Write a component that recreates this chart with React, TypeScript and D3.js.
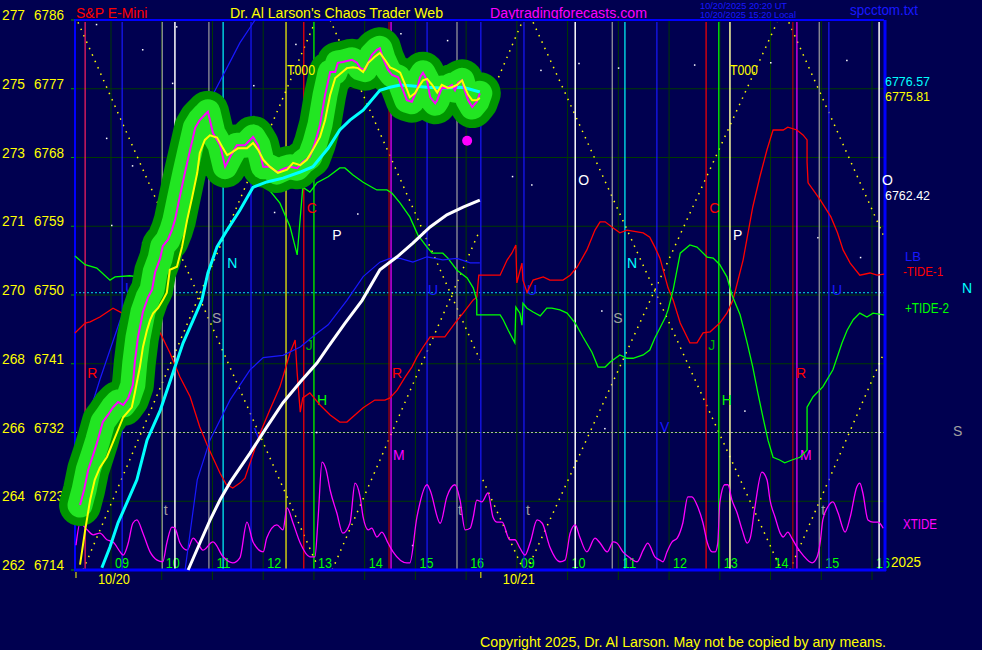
import { useEffect } from "react";
import * as d3 from "d3";

// left axis: E-mini price ticks and the cash index labels printed beside them
const priceTicks = [6714, 6723, 6732, 6741, 6750, 6759, 6768, 6777, 6786];
const indexLabels = ["262", "264", "266", "268", "270", "271", "273", "275", "277"];

// session hours, overnight squeezed into one slot (17 = 09:00 on 10/21)
const hourSlots = [9, 10, 11, 12, 13, 14, 15, 16, 17, 18, 19, 20, 21, 22, 23, 24];
const hourLabels = ["09", "10", "11", "12", "13", "14", "15", "16", "09", "10", "11", "12", "13", "14", "15", "16"];
const dateSlots = [8.31, 16.29];
const dateLabels = ["10/20", "10/21"];

// price, 10/20 session
const price: [number, number][] = [
  [8.39, 6722.5], [8.47, 6724.5], [8.55, 6727.1], [8.65, 6729.1], [8.74, 6731.0], [8.84, 6733.4],
  [8.94, 6734.3], [9.04, 6735.3], [9.14, 6736.0], [9.24, 6735.6], [9.34, 6736.5], [9.43, 6738.2], [9.47, 6741.2],
  [9.53, 6744.4], [9.63, 6747.8], [9.73, 6749.7], [9.81, 6750.7], [9.87, 6753.0], [9.97, 6754.8], [10.02, 6756.4],
  [10.12, 6757.2], [10.2, 6758.5], [10.26, 6759.8], [10.36, 6763.0], [10.46, 6766.1], [10.56, 6769.0], [10.66, 6771.9],
  [10.75, 6772.9], [10.85, 6773.6], [10.91, 6774.0], [11.01, 6771.2], [11.15, 6769.6], [11.25, 6766.8], [11.35, 6768.1],
  [11.48, 6769.6], [11.64, 6769.6], [11.8, 6770.7], [11.9, 6769.6], [12.0, 6766.8], [12.13, 6766.8], [12.27, 6766.1],
  [12.43, 6766.6], [12.53, 6766.8], [12.67, 6766.6], [12.78, 6767.4], [12.92, 6768.1], [13.02, 6769.9], [13.12, 6772.3],
  [13.22, 6776.2], [13.32, 6779.2], [13.42, 6779.2], [13.47, 6780.4], [13.57, 6780.5], [13.75, 6780.8], [13.85, 6780.4],
  [13.91, 6779.7], [14.01, 6779.5], [14.14, 6781.4], [14.24, 6782.1], [14.3, 6782.3], [14.36, 6781.0], [14.46, 6779.5],
  [14.54, 6778.8], [14.66, 6778.5], [14.74, 6777.1], [14.83, 6775.5], [14.93, 6775.3], [15.03, 6776.8], [15.09, 6778.5],
  [15.15, 6779.1], [15.23, 6778.1], [15.29, 6775.9], [15.39, 6775.1], [15.43, 6775.5], [15.52, 6777.1], [15.62, 6777.1],
  [15.72, 6777.5], [15.78, 6776.8], [15.84, 6777.8], [15.92, 6778.1], [15.98, 6776.6], [16.04, 6775.5], [16.12, 6774.6],
  [16.21, 6775.3], [16.27, 6776.4],
];

// fast average (yellow)
const fastAvg: [number, number][] = [
  [8.39, 6714.7], [8.49, 6719.2], [8.59, 6723.2], [8.68, 6725.8], [8.78, 6727.4], [8.92, 6728.8], [9.08, 6731.4],
  [9.24, 6734.0], [9.41, 6735.3], [9.47, 6737.2], [9.57, 6740.6], [9.63, 6743.2], [9.71, 6745.4], [9.77, 6746.7],
  [9.83, 6747.6], [9.93, 6748.3], [10.02, 6749.3], [10.1, 6750.3], [10.16, 6753.3], [10.3, 6753.7], [10.4, 6756.3],
  [10.5, 6759.8], [10.6, 6762.8], [10.7, 6766.0], [10.75, 6768.6], [10.85, 6770.3], [10.95, 6770.9], [11.09, 6770.6],
  [11.19, 6769.4], [11.29, 6768.3], [11.39, 6768.7], [11.5, 6769.2], [11.68, 6769.2], [11.8, 6769.9], [11.9, 6769.0],
  [12.0, 6767.7], [12.13, 6766.8], [12.29, 6766.0], [12.47, 6766.4], [12.59, 6767.3], [12.73, 6767.0], [12.86, 6767.7],
  [12.98, 6769.0], [13.12, 6770.7], [13.22, 6772.9], [13.32, 6776.2], [13.42, 6778.4], [13.65, 6779.7], [13.77, 6779.8],
  [13.87, 6779.7], [13.97, 6779.2], [14.07, 6780.4], [14.2, 6781.2], [14.3, 6781.7], [14.4, 6780.8], [14.5, 6779.8],
  [14.6, 6779.5], [14.7, 6779.1], [14.8, 6777.5], [14.89, 6775.9], [14.99, 6776.4], [15.05, 6777.1], [15.15, 6778.1],
  [15.23, 6778.3], [15.33, 6777.5], [15.43, 6776.5], [15.52, 6777.5], [15.64, 6777.1], [15.72, 6777.2], [15.82, 6777.5],
  [15.92, 6778.1], [15.98, 6777.1], [16.04, 6776.2], [16.12, 6775.5], [16.21, 6775.5], [16.27, 6775.8],
];

// medium average (cyan)
const midAvg: [number, number][] = [
  [8.82, 6714.3], [8.98, 6717.0], [9.14, 6720.2], [9.34, 6723.2], [9.51, 6725.8], [9.71, 6731.0], [9.97, 6734.9],
  [10.22, 6739.8], [10.42, 6743.7], [10.62, 6746.7], [10.79, 6749.3], [10.91, 6752.9], [11.09, 6756.3], [11.29, 6758.5],
  [11.54, 6761.1], [11.8, 6764.1], [12.07, 6764.8], [12.39, 6765.3], [12.73, 6766.1], [12.98, 6766.8], [13.28, 6769.2],
  [13.51, 6771.6], [13.71, 6772.9], [13.97, 6774.2], [14.3, 6776.8], [14.5, 6777.2], [14.7, 6777.5], [14.89, 6777.4],
  [15.23, 6777.2], [15.49, 6777.1], [15.94, 6777.2], [16.27, 6776.57],
];

// slow average (white)
const slowAvg: [number, number][] = [
  [10.52, 6714.0], [10.75, 6717.5], [10.95, 6720.5], [11.15, 6723.2], [11.35, 6725.5], [11.74, 6729.3], [12.07, 6732.7],
  [12.39, 6735.9], [12.73, 6738.6], [13.06, 6741.1], [13.28, 6743.2], [13.61, 6746.3], [13.95, 6749.3], [14.3, 6753.3],
  [14.64, 6755.0], [14.95, 6756.8], [15.29, 6758.9], [15.62, 6760.5], [15.94, 6761.5], [16.27, 6762.42],
];

// blue projection lines
const blueSteep: [number, number][] = [
  [8.29, 6728.4], [8.53, 6733.6], [8.78, 6738.9], [8.98, 6742.8], [9.18, 6746.7], [9.37, 6749.3], [10.06, 6755.9],
  [10.26, 6761.8], [10.95, 6775.5], [11.29, 6779.8], [11.54, 6783.0], [11.84, 6786.0],
];
const blueSlow: [number, number][] = [
  [10.46, 6714.0], [10.7, 6725.8], [10.95, 6731.0], [11.35, 6736.3], [11.74, 6740.2], [12.0, 6741.8], [12.39, 6742.1],
  [12.73, 6743.2], [13.06, 6745.0], [13.28, 6746.1], [13.65, 6749.3], [13.97, 6752.4], [14.3, 6754.3], [14.5, 6754.8],
  [14.7, 6754.8], [14.95, 6754.3], [15.23, 6755.0], [15.54, 6754.6], [15.82, 6754.8], [16.08, 6754.2], [16.27, 6754.2],
];

// tide curves, 0..100 over the plot height
const tide1: [number, number][] = [
  [8.29, 43.1], [8.49, 44.9], [8.59, 45.1], [8.78, 46.0], [9.04, 47.6], [9.22, 46.7], [9.43, 46.9], [9.63, 46.9],
  [9.77, 45.5], [9.97, 43.1], [10.16, 39.5], [10.36, 35.1], [10.56, 31.5], [10.75, 26.0], [10.91, 22.4], [11.15, 17.6],
  [11.27, 15.6], [11.4, 14.9], [11.54, 15.8], [11.64, 16.7], [11.94, 24.9], [12.13, 29.1], [12.33, 33.3], [12.53, 39.5],
  [12.63, 41.8], [12.67, 35.8], [12.73, 28.7], [12.78, 31.3], [12.92, 32.2], [13.12, 30.0], [13.32, 28.2], [13.51, 26.9],
  [13.65, 26.9], [13.97, 29.5], [14.2, 30.9], [14.4, 30.9], [14.5, 31.3], [14.64, 32.7], [14.8, 35.1], [14.93, 36.9],
  [15.03, 38.7], [15.15, 40.5], [15.29, 42.4], [15.58, 42.4], [15.78, 44.9], [15.94, 46.7], [16.14, 49.1], [16.21, 49.6],
  [16.25, 53.6], [16.67, 53.6], [16.81, 56.4], [16.9, 57.6], [16.98, 59.1], [17.0, 52.2], [17.1, 55.8], [17.12, 52.7],
  [17.2, 50.5], [17.32, 52.7], [17.52, 53.3], [17.65, 52.7], [17.91, 52.7], [18.05, 53.6], [18.19, 55.1], [18.38, 58.2],
  [18.54, 61.8], [18.64, 63.3], [18.74, 63.3], [18.9, 62.2], [19.03, 61.3], [19.17, 61.8], [19.49, 61.3], [19.62, 60.5],
  [19.72, 58.7], [19.82, 56.7], [19.98, 51.3], [20.08, 49.1], [20.22, 44.9], [20.41, 41.3], [20.55, 41.3], [20.67, 43.1],
  [20.81, 43.3], [21.0, 44.9], [21.14, 46.7], [21.26, 49.1], [21.46, 56.4], [21.65, 66.0], [21.79, 71.5], [21.93, 76.4],
  [22.05, 80.0], [22.25, 80.0], [22.34, 80.5], [22.52, 80.0], [22.64, 79.1], [22.72, 78.2], [22.72, 74.2], [22.74, 70.4],
  [22.84, 69.1], [22.98, 67.3], [23.19, 64.2], [23.32, 61.3], [23.43, 58.2], [23.57, 55.8], [23.76, 53.6], [23.96, 54.0],
  [24.1, 53.6], [24.24, 53.8],
];
const tide2: [number, number][] = [
  [8.29, 57.1], [8.49, 55.5], [8.72, 54.9], [8.98, 52.7], [9.08, 53.3], [9.37, 53.5], [9.53, 53.3], [9.73, 52.7],
  [9.93, 51.6], [10.12, 55.5], [10.5, 67.3], [10.85, 75.5], [11.3, 74.0], [11.8, 72.0], [12.04, 70.0], [12.33, 66.7],
  [12.53, 62.4], [12.67, 57.3], [12.78, 69.6],
  [12.92, 68.7], [13.06, 70.4], [13.28, 71.5], [13.51, 73.1], [13.61, 73.1], [13.77, 71.8], [13.97, 70.5], [14.16, 69.5],
  [14.24, 69.1], [14.44, 69.1], [14.54, 68.5], [14.7, 66.7], [14.89, 64.2], [15.05, 60.9], [15.23, 58.7], [15.33, 57.6],
  [15.54, 57.6], [15.64, 56.7], [15.82, 54.5], [16.02, 53.1], [16.14, 51.3], [16.21, 49.1], [16.21, 46.4], [16.67, 46.4],
  [16.73, 45.5], [16.83, 43.6], [16.96, 41.3], [16.98, 47.8], [17.06, 46.7], [17.1, 44.5], [17.12, 48.5], [17.2, 47.6],
  [17.32, 46.9], [17.46, 46.2], [17.59, 47.6], [17.69, 47.6], [17.85, 47.3], [17.99, 46.7], [18.15, 44.9], [18.3, 42.4],
  [18.48, 39.6], [18.6, 36.9], [18.74, 36.9], [18.84, 37.8], [19.03, 39.1], [19.17, 38.5], [19.29, 38.5], [19.49, 39.1],
  [19.62, 40.0], [19.72, 42.2], [19.82, 44.0], [19.92, 45.8], [19.98, 47.3], [20.08, 50.9], [20.22, 57.6], [20.41, 59.1],
  [20.55, 58.7], [20.75, 56.9], [20.87, 56.7], [21.0, 55.5], [21.14, 53.3], [21.24, 50.0], [21.4, 46.4], [21.54, 41.3],
  [21.65, 36.9], [21.75, 32.2], [21.85, 27.8], [21.95, 23.6], [22.05, 20.5], [22.18, 20.0], [22.28, 19.5], [22.42, 20.0],
  [22.58, 20.5], [22.72, 21.8], [22.72, 29.6], [22.84, 31.5], [23.03, 33.3], [23.23, 36.4], [23.41, 41.3], [23.51, 43.6],
  [23.63, 45.5], [23.76, 46.7], [23.9, 46.0], [24.02, 46.7], [24.24, 46.4],
];
const xtide: [number, number][] = [
  [8.31, 4.5], [8.39, 8.5], [8.53, 7.3], [8.65, 6.4], [8.78, 6.7], [8.92, 5.5], [9.04, 5.1], [9.18, 3.3], [9.24, 2.7],
  [9.34, 4.9], [9.43, 8.5], [9.51, 9.1], [9.63, 6.7], [9.77, 3.3], [9.91, 1.8], [10.02, 1.5], [10.1, 4.9], [10.2, 7.8],
  [10.26, 7.6], [10.36, 4.9], [10.5, 3.6], [10.62, 5.8], [10.71, 4.9], [10.81, 3.6], [11.01, 5.1], [11.21, 2.4],
  [11.4, 1.3], [11.54, 2.2], [11.68, 8.7], [11.8, 5.1], [12.0, 3.3], [12.07, 5.8], [12.27, 8.2], [12.39, 7.3],
  [12.47, 11.3], [12.59, 8.5], [12.73, 4.9], [12.92, 2.4], [13.02, 2.4], [13.08, 9.1], [13.16, 19.6], [13.24, 18.2],
  [13.32, 14.5], [13.45, 10.4], [13.57, 6.7], [13.71, 8.5], [13.81, 15.8], [13.91, 13.3], [13.97, 9.6], [14.07, 7.3],
  [14.14, 7.6], [14.24, 6.0], [14.34, 6.9], [14.46, 4.9], [14.56, 3.3], [14.83, 1.3], [14.89, 1.3], [15.03, 9.6],
  [15.23, 15.5], [15.29, 14.5], [15.49, 8.5], [15.62, 13.3], [15.78, 15.5], [15.88, 12.7], [15.98, 7.3], [16.08, 7.6],
  [16.14, 9.6], [16.21, 12.7], [16.31, 12.4], [16.43, 14.0], [16.53, 9.6], [16.61, 8.7], [16.71, 8.7], [16.86, 5.5],
  [16.96, 5.5], [17.06, 4.0], [17.16, 2.7], [17.26, 4.9], [17.4, 9.1], [17.5, 8.5], [17.65, 4.2], [17.85, 1.5],
  [17.95, 1.8], [18.05, 6.7], [18.15, 8.2], [18.24, 6.0], [18.38, 3.3], [18.54, 5.8], [18.64, 4.9], [18.78, 3.3],
  [18.9, 5.1], [18.97, 4.9], [19.09, 3.3], [19.23, 2.2], [19.37, 1.5], [19.49, 3.6], [19.58, 4.9], [19.72, 2.4],
  [19.82, 1.8], [19.88, 1.5], [19.96, 3.3], [20.06, 5.1], [20.16, 5.8], [20.27, 8.5], [20.37, 13.3], [20.45, 13.3],
  [20.55, 11.8], [20.67, 8.5], [20.75, 5.1], [20.85, 3.3], [20.91, 3.3], [20.96, 4.9], [21.0, 12.2], [21.1, 15.5],
  [21.16, 15.5], [21.24, 12.7], [21.34, 10.4], [21.44, 7.3], [21.54, 4.9], [21.6, 5.8], [21.69, 11.3], [21.83, 17.8],
  [21.93, 16.4], [21.99, 12.7], [22.09, 9.6], [22.19, 6.7], [22.25, 6.0], [22.34, 6.9], [22.42, 5.8], [22.52, 4.2],
  [22.64, 2.7], [22.82, 1.3], [22.92, 2.4], [22.98, 5.1], [23.03, 9.1], [23.13, 11.5], [23.23, 12.4], [23.33, 10.4],
  [23.47, 6.9], [23.57, 9.6], [23.7, 15.1], [23.76, 15.8], [23.82, 14.0], [23.92, 9.1], [24.02, 8.7], [24.12, 8.7],
  [24.22, 7.6],
];

// dotted time/price angles: [slot1, price1, slot2, price2]
const angleLines: [number, number, number, number][] = [
  [8.35, 6785.7, 13.06, 6714.7],
  [8.45, 6714.0, 13.02, 6785.7],
  [13.32, 6786.0, 16.27, 6741.5],
  [13.36, 6714.0, 16.27, 6758.5],
  [16.53, 6776.8, 17.1, 6785.7],
  [16.33, 6725.8, 17.08, 6714.7],
  [17.32, 6785.7, 22.21, 6714.0],
  [17.2, 6714.0, 22.13, 6785.7],
  [22.36, 6785.7, 24.24, 6757.6],
  [22.38, 6714.0, 24.24, 6742.5],
];

// planetary time lines
const eventSlots = [8.49, 9.22, 10.01, 10.26, 10.93, 11.21, 11.76, 12.45, 12.8, 13.0, 14.48, 14.52, 15.23, 15.82, 16.29,
  17.14, 18.15, 18.88, 19.13, 19.76, 20.73, 20.98, 21.2, 22.44, 22.52, 22.96, 23.15, 24.14];
const eventKinds = ["rose", "blue", "grey", "white", "grey", "cyan", "blue", "yellow", "red", "green", "maroon", "magenta",
  "blue", "grey", "blue", "blue", "white", "grey", "cyan", "blue", "red", "green", "cream", "maroon", "magenta", "grey",
  "blue", "white"];

// planet glyph letters: slot, price, text, kind
const glyphs: [number, number, string, string][] = [
  [10.32, 6764.4, "O", "white"], [18.21, 6764.4, "O", "white"],
  [12.86, 6760.7, "C", "red"], [20.79, 6760.7, "C", "red"],
  [13.36, 6757.2, "P", "white"], [21.26, 6757.2, "P", "white"],
  [11.29, 6753.5, "N", "cyan"], [19.17, 6753.5, "N", "cyan"],
  [10.99, 6746.3, "S", "grey"], [18.9, 6746.3, "S", "grey"],
  [12.84, 6742.8, "J", "dkgreen"], [20.77, 6742.8, "J", "dkgreen"],
  [13.06, 6735.6, "H", "green"], [21.04, 6735.6, "H", "green"],
  [8.53, 6739.1, "R", "red"], [14.54, 6739.1, "R", "red"], [22.5, 6739.1, "R", "red"],
  [8.55, 6728.4, "M", "magenta"], [14.56, 6728.4, "M", "magenta"], [22.58, 6728.4, "M", "magenta"],
  [9.28, 6750.3, "U", "blue"], [15.25, 6750.0, "U", "blue"], [17.2, 6750.0, "U", "blue"], [23.21, 6750.0, "U", "blue"],
  [11.82, 6731.3, "V", "blue"], [19.82, 6732.1, "V", "blue"],
  [10.04, 6721.2, "t", "grey"], [15.84, 6721.2, "t", "grey"], [17.18, 6721.2, "t", "grey"], [23.0, 6721.2, "t", "grey"],
];
const timeMarks: [number, number][] = [[12.47, 6778.8], [21.2, 6778.8]];

const stars: [number, number][] = [
  [8.7, 6785.5], [9.61, 6782.2], [10.28, 6785.2], [10.2, 6777.8], [11.8, 6777.5], [12.63, 6782.9], [14.7, 6784.3],
  [15.62, 6783.4], [17.46, 6779.5], [18.21, 6780.4], [18.99, 6779.8], [20.49, 6780.2], [21.99, 6780.5], [23.49, 6780.8],
  [8.9, 6770.6], [9.41, 6767.0], [9.0, 6759.2], [9.61, 6756.9], [12.19, 6767.2], [12.21, 6760.9], [13.85, 6760.7],
  [16.9, 6765.6], [17.28, 6764.5], [18.66, 6748.0], [18.72, 6732.6], [22.92, 6757.6], [23.76, 6755.0], [21.48, 6734.9],
  [14.93, 6717.3], [13.04, 6732.1],
];

const forecastDot: [number, number] = [16.02, 6770.2];

const COLORS: Record<string, string> = {
  rose: "#ff2060", blue: "#1818ff", grey: "#a0a0a0", white: "#ffffff", cyan: "#00ffff", yellow: "#ffff00",
  red: "#ff0000", green: "#00ff00", dkgreen: "#00b000", maroon: "#b00000", magenta: "#ff00ff", cream: "#ffffa0",
};

const FONT = "'Liberation Sans', Arial, sans-serif";
const BG = "#000050";

export default function App() {
  useEffect(() => {
    document.body.style.margin = "0";
    document.body.style.background = BG;
  }, []);

  const left = 75, right = 884, top = 20, bottom = 570;
  const x = d3.scaleLinear().domain([9, 24]).range([111, 872]);
  const y = d3.scaleLinear().domain([6714, 6786]).range([bottom, top]);
  const lv = d3.scaleLinear().domain([0, 100]).range([bottom, top]);

  const pLine = d3.line<[number, number]>().x((d) => x(d[0])).y((d) => y(d[1]));
  const tLine = d3.line<[number, number]>().x((d) => x(d[0])).y((d) => lv(d[1]));
  const smoothT = d3.line<[number, number]>().x((d) => x(d[0])).y((d) => lv(d[1])).curve(d3.curveMonotoneX);

  return (
    <svg width={982} height={650} style={{ position: "absolute", left: 0, top: 0, background: BG }} fontFamily={FONT}>
      <rect width={982} height={650} fill={BG} />

      {/* header */}
      <text x={76} y={18} fill="#ff0000" fontSize={14}>S&amp;P E-Mini</text>
      <text x={230} y={18} fill="#ffff00" fontSize={14} textLength={213} lengthAdjust="spacingAndGlyphs">Dr. Al Larson's Chaos Trader Web</text>
      <text x={490} y={18} fill="#ff00ff" fontSize={14} textLength={157} lengthAdjust="spacingAndGlyphs">Daytradingforecasts.com</text>
      <text x={700} y={8.5} fill="#1818ff" fontSize={9} textLength={87} lengthAdjust="spacingAndGlyphs">10/20/2025 20:20 UT</text>
      <text x={700} y={18} fill="#1818ff" fontSize={9} textLength={96} lengthAdjust="spacingAndGlyphs">10/20/2025 15:20 Local</text>
      <text x={850} y={15} fill="#1818ff" fontSize={14} textLength={68} lengthAdjust="spacingAndGlyphs">spcctom.txt</text>

      {/* horizontal grid and left labels */}
      {priceTicks.map((t, i) => (
        <g key={t}>
          <line x1={left} x2={right} y1={y(t)} y2={y(t)} stroke="#003a00" strokeWidth={1} />
          <line x1={71} x2={left} y1={y(t)} y2={y(t)} stroke="#00a000" strokeWidth={1} />
          <text x={2} y={y(t)} fill="#ffff00" fontSize={14} textLength={23} lengthAdjust="spacingAndGlyphs">{indexLabels[i]}</text>
          <text x={34} y={y(t)} fill="#ffff00" fontSize={14} textLength={30} lengthAdjust="spacingAndGlyphs">{t}</text>
        </g>
      ))}
      <line x1={left} x2={right} y1={y(6750.3)} y2={y(6750.3)} stroke="#00e0e0" strokeWidth={1} strokeDasharray="2 2" />
      <line x1={left} x2={right} y1={y(6732)} y2={y(6732)} stroke="#b0b0b0" strokeWidth={1} strokeDasharray="2 2" />

      {/* hour grid and labels */}
      {hourSlots.map((h, i) => (
        <g key={h}>
          <line x1={x(h)} x2={x(h)} y1={top} y2={580} stroke="#003a00" strokeWidth={1} />
          <text x={x(h) + 4} y={568} fill="#00ff00" fontSize={14} textLength={14} lengthAdjust="spacingAndGlyphs">{hourLabels[i]}</text>
        </g>
      ))}
      {dateSlots.map((d, i) => (
        <g key={d}>
          <line x1={x(d)} x2={x(d)} y1={572} y2={578} stroke="#ffff00" strokeWidth={1} />
          <text x={x(d) + 22} y={584} fill="#ffff00" fontSize={14} textLength={32} lengthAdjust="spacingAndGlyphs">{dateLabels[i]}</text>
        </g>
      ))}

      {/* stars */}
      {stars.map((s, i) => (
        <rect key={i} x={x(s[0])} y={y(s[1])} width={1.5} height={1.5} fill="#ffffff" />
      ))}

      {/* dotted angles */}
      {angleLines.map((a, i) => (
        <line key={i} x1={x(a[0])} y1={y(a[1])} x2={x(a[2])} y2={y(a[3])} stroke="#ffff00" strokeWidth={1.5} strokeDasharray="1.5 5.5" />
      ))}

      {/* planetary time lines */}
      {eventSlots.map((s, i) => (
        <line key={i} x1={x(s)} x2={x(s)} y1={top + 2} y2={bottom} stroke={COLORS[eventKinds[i]]}
          strokeWidth={eventKinds[i] === "white" || eventKinds[i] === "cream" ? 1.5 : 1.2} />
      ))}

      {/* frame */}
      <line x1={left - 1} x2={right} y1={top} y2={top} stroke="#0000ff" strokeWidth={2} />
      <line x1={left} x2={left} y1={top} y2={bottom} stroke="#0000ff" strokeWidth={2} />
      <line x1={left - 1} x2={right + 2} y1={bottom} y2={bottom} stroke="#0000ff" strokeWidth={3} />
      <line x1={right + 1} x2={right + 1} y1={top} y2={bottom + 1} stroke="#0000ff" strokeWidth={3} />
      <text x={891} y={567} fill="#ffff00" fontSize={14} textLength={30} lengthAdjust="spacingAndGlyphs">2025</text>

      {/* glyph letters */}
      {glyphs.map((g, i) => (
        <text key={i} x={x(g[0])} y={y(g[1])} fill={COLORS[g[3]]} fontSize={14}>{g[2]}</text>
      ))}

      {/* tides */}
      <path d={tLine(tide1) ?? ""} fill="none" stroke="#ff0000" strokeWidth={1.3} />
      <path d={tLine(tide2) ?? ""} fill="none" stroke="#00ff00" strokeWidth={1.3} />
      <path d={smoothT(xtide) ?? ""} fill="none" stroke="#ff00ff" strokeWidth={1.3} />

      {/* projection and averages */}
      <path d={pLine(blueSteep) ?? ""} fill="none" stroke="#1818ff" strokeWidth={1.2} />
      <path d={pLine(blueSlow) ?? ""} fill="none" stroke="#1818ff" strokeWidth={1.2} />
      <path d={pLine(slowAvg) ?? ""} fill="none" stroke="#ffffff" strokeWidth={3} />

      {/* price glow */}
      <path d={pLine(price) ?? ""} fill="none" stroke="#009600" strokeWidth={42} strokeLinecap="round" strokeLinejoin="round" />
      <path d={pLine(price) ?? ""} fill="none" stroke="#22e622" strokeWidth={25} strokeLinecap="round" strokeLinejoin="round" />
      <path d={pLine(midAvg) ?? ""} fill="none" stroke="#00ffff" strokeWidth={3} />
      <path d={pLine(price) ?? ""} fill="none" stroke="#ff00ff" strokeWidth={2} />
      <path d={pLine(fastAvg) ?? ""} fill="none" stroke="#ffff00" strokeWidth={2} />
      <circle cx={x(forecastDot[0])} cy={y(forecastDot[1])} r={5} fill="#ff00ff" />

      {timeMarks.map((m, i) => (
        <text key={i} x={x(m[0])} y={y(m[1])} fill="#ffff00" fontSize={14} textLength={28} lengthAdjust="spacingAndGlyphs">T000</text>
      ))}

      {/* right side labels */}
      <text x={885} y={86} fill="#00ffff" fontSize={12} textLength={45} lengthAdjust="spacingAndGlyphs">6776.57</text>
      <text x={885} y={101} fill="#ffff00" fontSize={12} textLength={45} lengthAdjust="spacingAndGlyphs">6775.81</text>
      <text x={882} y={185} fill="#ffffff" fontSize={14}>O</text>
      <text x={885} y={200} fill="#ffffff" fontSize={13} textLength={45} lengthAdjust="spacingAndGlyphs">6762.42</text>
      <text x={905} y={261} fill="#1818ff" fontSize={13}>LB</text>
      <text x={903} y={276} fill="#ff0000" fontSize={13} textLength={40} lengthAdjust="spacingAndGlyphs">-TIDE-1</text>
      <text x={962} y={293} fill="#00ffff" fontSize={14}>N</text>
      <text x={905} y={313} fill="#00ff00" fontSize={14} textLength={44} lengthAdjust="spacingAndGlyphs">+TIDE-2</text>
      <text x={953} y={436} fill="#a0a0a0" fontSize={14}>S</text>
      <text x={903} y={529} fill="#ff00ff" fontSize={14} textLength={34} lengthAdjust="spacingAndGlyphs">XTIDE</text>

      <text x={480} y={647} fill="#ffff00" fontSize={14} textLength={406} lengthAdjust="spacingAndGlyphs">
        Copyright 2025, Dr. Al Larson. May not be copied by any means.
      </text>
    </svg>
  );
}
